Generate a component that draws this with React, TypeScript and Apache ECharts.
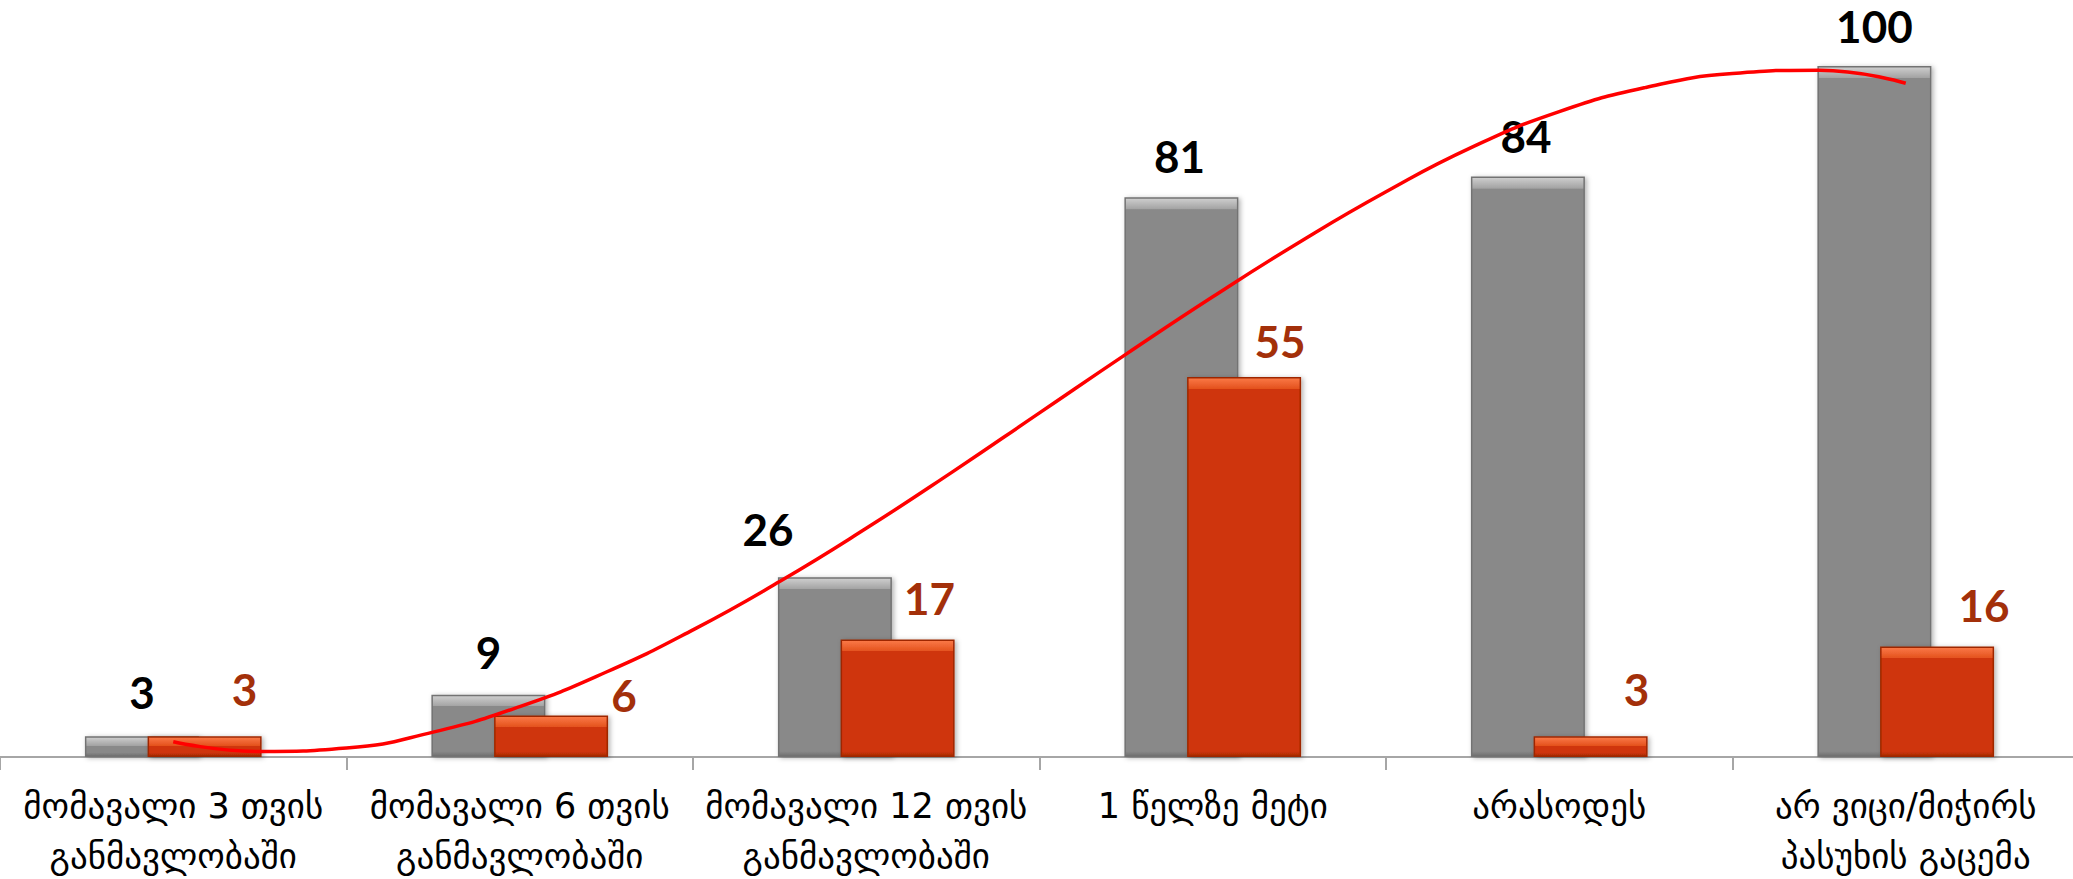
import React, { useEffect, useRef } from "react";
import * as echarts from "echarts";

const categories = [
  "მომავალი 3 თვის\nგანმავლობაში",
  "მომავალი 6 თვის\nგანმავლობაში",
  "მომავალი 12 თვის\nგანმავლობაში",
  "1 წელზე მეტი",
  "არასოდეს",
  "არ ვიცი/მიჭირს\nპასუხის გაცემა",
];
const grayValues = [3, 9, 26, 81, 84, 100];
const orangeValues = [3, 6, 17, 55, 3, 16];
// trend line: [position in category units, value]
const trendX = [0.5, 0.75, 1.0, 1.25, 1.5, 1.75, 2.0, 2.25, 2.5, 2.75, 3.0, 3.25, 3.5, 3.75, 4.0, 4.25, 4.5, 4.75, 5.0, 5.25, 5.5];
const trendY = [2.2, 0.8, 1.3, 3.6, 7.3, 12.3, 18.4, 25.4, 33.1, 41.3, 49.8, 58.3, 66.6, 74.5, 81.8, 88.3, 93.4, 96.9, 98.9, 99.4, 97.5];

// hand-placed label nudges in the original (pixels: [dx, dy])
const grayLabelNudge = [[0, -2], [0, -1], [-67, -6], [-2, 1], [-2, 1], [0, 2]];
const orangeLabelNudge = [[40, -5], [73, 21], [32, 0], [36, 6], [46, -5], [47, 1]];

const PX_PER_UNIT = (879 - 66 - 122) / 100;

function bevel(value: number, top: string, mid: string, main: string, bottom: string) {
  const h = Math.max(value * PX_PER_UNIT, 1);
  const t = Math.min(11 / h, 0.45);
  const b = Math.min(5 / h, 0.2);
  return new echarts.graphic.LinearGradient(0, 0, 0, 1, [
    { offset: 0, color: top },
    { offset: t, color: mid },
    { offset: Math.min(t + 0.001, 1), color: main },
    { offset: Math.max(1 - b, t + 0.002), color: main },
    { offset: 1, color: bottom },
  ]);
}

export default function App() {
  const ref = useRef<HTMLDivElement>(null);
  useEffect(() => {
    if (!ref.current) return;
    const chart = echarts.init(ref.current, undefined, { renderer: "svg" });
    const labelBase = {
      show: true,
      position: "top",
      distance: 20,
      fontFamily: "Lato",
      fontWeight: "bold",
      fontSize: 44,
      lineHeight: 44,
    };
    chart.setOption({
      animation: false,
      backgroundColor: "#ffffff",
      grid: {
        left: 0,
        right: -6,
        top: 66,
        bottom: 122,
        containLabel: false,
        outerBoundsMode: "none",
      },
      xAxis: [
        {
          type: "category",
          data: categories,
          axisLine: { show: true, lineStyle: { color: "#a6a6a6", width: 2 } },
          axisTick: { show: true, length: 13, lineStyle: { color: "#a6a6a6", width: 2 } },
          axisLabel: {
            interval: 0,
            color: "#000000",
            fontFamily: "DejaVu Sans",
            fontSize: 35,
            lineHeight: 50,
            margin: 24,
          },
        },
        { type: "value", min: 0, max: 6, show: false },
      ],
      yAxis: { type: "value", min: 0, max: 100, show: false, splitLine: { show: false } },
      series: [
        {
          type: "bar",
          data: grayValues.map((v, i) => ({
            value: v,
            itemStyle: { color: bevel(v, "#cfcfcf", "#a3a3a3", "#898989", "#6f6f6f") },
            label: { offset: grayLabelNudge[i] },
          })),
          barWidth: 114,
          barGap: "-45%",
          itemStyle: {
            borderColor: "#737373",
            borderWidth: 1.5,
            shadowBlur: 5,
            shadowColor: "rgba(0,0,0,0.3)",
            shadowOffsetX: 2,
            shadowOffsetY: 1,
          },
          label: { ...labelBase, color: "#000000" },
          z: 2,
        },
        {
          type: "bar",
          data: orangeValues.map((v, i) => ({
            value: v,
            itemStyle: { color: bevel(v, "#fb7a48", "#e4521e", "#cf3508", "#a82b05") },
            label: { offset: orangeLabelNudge[i] },
          })),
          barWidth: 114,
          itemStyle: {
            borderColor: "#9e2804",
            borderWidth: 1.5,
            shadowBlur: 5,
            shadowColor: "rgba(0,0,0,0.3)",
            shadowOffsetX: 2,
            shadowOffsetY: 1,
          },
          label: { ...labelBase, color: "#a3300a" },
          z: 3,
        },
        {
          type: "line",
          xAxisIndex: 1,
          data: trendX.map((x, i) => [x, trendY[i]]),
          smooth: true,
          symbol: "none",
          lineStyle: { color: "#ff0000", width: 3.5 },
          z: 5,
        },
      ],
    });
    return () => chart.dispose();
  }, []);
  return (
    <div
      ref={ref}
      style={{ position: "fixed", left: 0, top: 0, width: 2073, height: 879, background: "#fff" }}
    />
  );
}
